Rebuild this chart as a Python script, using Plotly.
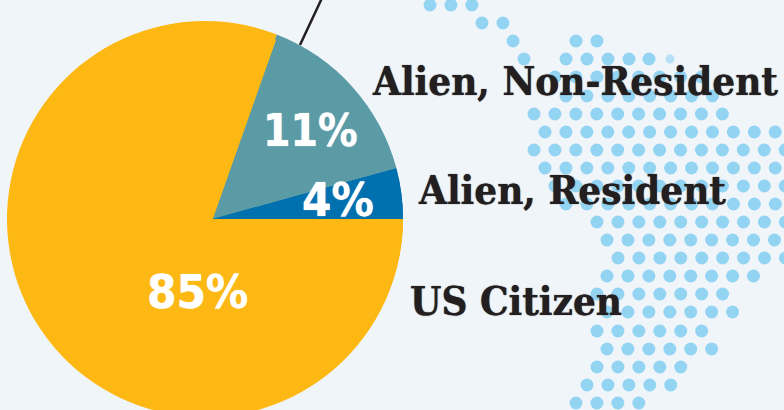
"""Student citizenship pie over a dotted map backdrop, 784x410."""
import plotly.graph_objects as go

WIDTH = 784
HEIGHT = 420  # the pie runs past the bottom of the 410px window

BG = "#F0F5FA"
INK = "#231F20"
DOT = "#94D4F3"
DOT_FAINT = "#B5E0F6"

categories = ["US Citizen", "Alien, Non-Resident", "Alien, Resident"]
percent_labels = ["85%", "11%", "4%"]
slice_colors = ["#FDB813", "#5A9BA5", "#0070AF"]

# the printed wedges don't follow the printed percentages, and their tip sits
# right of the circle centre, so these are the shares as drawn, seen from each centre
rim_shares = [80.9, 15.0, 4.1]
tip_shares = [80.4, 15.3, 4.3]

# backdrop dots: row height, first dot, dot count
dot_row_y = [5, 23, 41, 41, 59, 77, 96, 114, 132, 150, 168, 186, 204, 222, 240,
             258, 276, 294, 312, 331, 349, 367, 385, 403]
dot_row_x0 = [430, 482, 513, 576, 524, 555, 566, 534, 545, 534, 545, 555, 566, 597, 607,
              618, 607, 597, 607, 597, 607, 597, 587, 576]
dot_row_n = [3, 2, 1, 2, 1, 8, 8, 10, 12, 13, 12, 12, 11, 10, 9,
             9, 8, 7, 7, 6, 6, 5, 5, 4]
dot_pitch = 20.93


def paper_domain(cx, cy, r):
    return dict(x=[(cx - r) / WIDTH, (cx + r) / WIDTH],
                y=[(HEIGHT - cy - r) / HEIGHT, (HEIGHT - cy + r) / HEIGHT])


dot_x, dot_y = [], []
for y, x0, n in zip(dot_row_y, dot_row_x0, dot_row_n):
    for i in range(n):
        dot_x.append(x0 + i * dot_pitch)
        dot_y.append(y)
# row 59 has a small pale dot at its right end, row 59 itself is drawn separately
faint_x, faint_y = [566, 587, 608, 629, 649], [59] * 5

fig = go.Figure()
fig.add_trace(go.Scatter(x=dot_x + faint_x, y=dot_y + faint_y, mode="markers",
                         marker=dict(color=DOT, size=13, line=dict(width=0)), hoverinfo="skip"))
fig.add_trace(go.Scatter(x=[670], y=[59], mode="markers",
                         marker=dict(color=DOT_FAINT, size=9, line=dict(width=0)), hoverinfo="skip"))

common = dict(labels=categories, marker=dict(colors=slice_colors, line=dict(width=0)), sort=False,
              direction="clockwise", rotation=90, textinfo="none", hoverinfo="label", showlegend=False)
fig.add_trace(go.Pie(values=rim_shares, domain=paper_domain(205, 219, 198), **common))
fig.add_trace(go.Pie(values=tip_shares, domain=paper_domain(213, 219, 190), **common))

# leader line going up off the top of the frame
fig.add_shape(type="line", xref="x", yref="y", x0=322, y0=-2, x1=300, y1=45,
              line=dict(color=INK, width=2.5))

for text, x, y in zip(categories, [408, 370, 416], [300, 80, 189]):
    fig.add_annotation(x=x, y=y, text=text, showarrow=False, xanchor="left", yanchor="middle",
                       font=dict(family="DejaVu Serif Condensed, DejaVu Serif", size=40, color=INK,
                                 weight="bold", shadow=f"0 0 1px {INK}"))
for text, x, y, size in zip(percent_labels, [197, 310, 338], [291, 130, 199], [47, 44, 47]):
    fig.add_annotation(x=x, y=y, text=text, showarrow=False, xanchor="center", yanchor="middle",
                       font=dict(family="DejaVu Sans Condensed, DejaVu Sans", size=size, color="white",
                                 weight="bold", shadow="0 0 1px white"))

fig.update_layout(
    width=WIDTH, height=HEIGHT,
    paper_bgcolor=BG, plot_bgcolor=BG,
    margin=dict(l=0, r=0, t=0, b=0),
    showlegend=False,
    xaxis=dict(range=[0, WIDTH], visible=False, fixedrange=True),
    yaxis=dict(range=[HEIGHT, 0], visible=False, fixedrange=True),
)

fig.write_html("out.html", config={"displayModeBar": False},
               post_script="document.body.style.margin='0';document.body.style.overflow='hidden';"
                           "document.documentElement.style.overflow='hidden';")
